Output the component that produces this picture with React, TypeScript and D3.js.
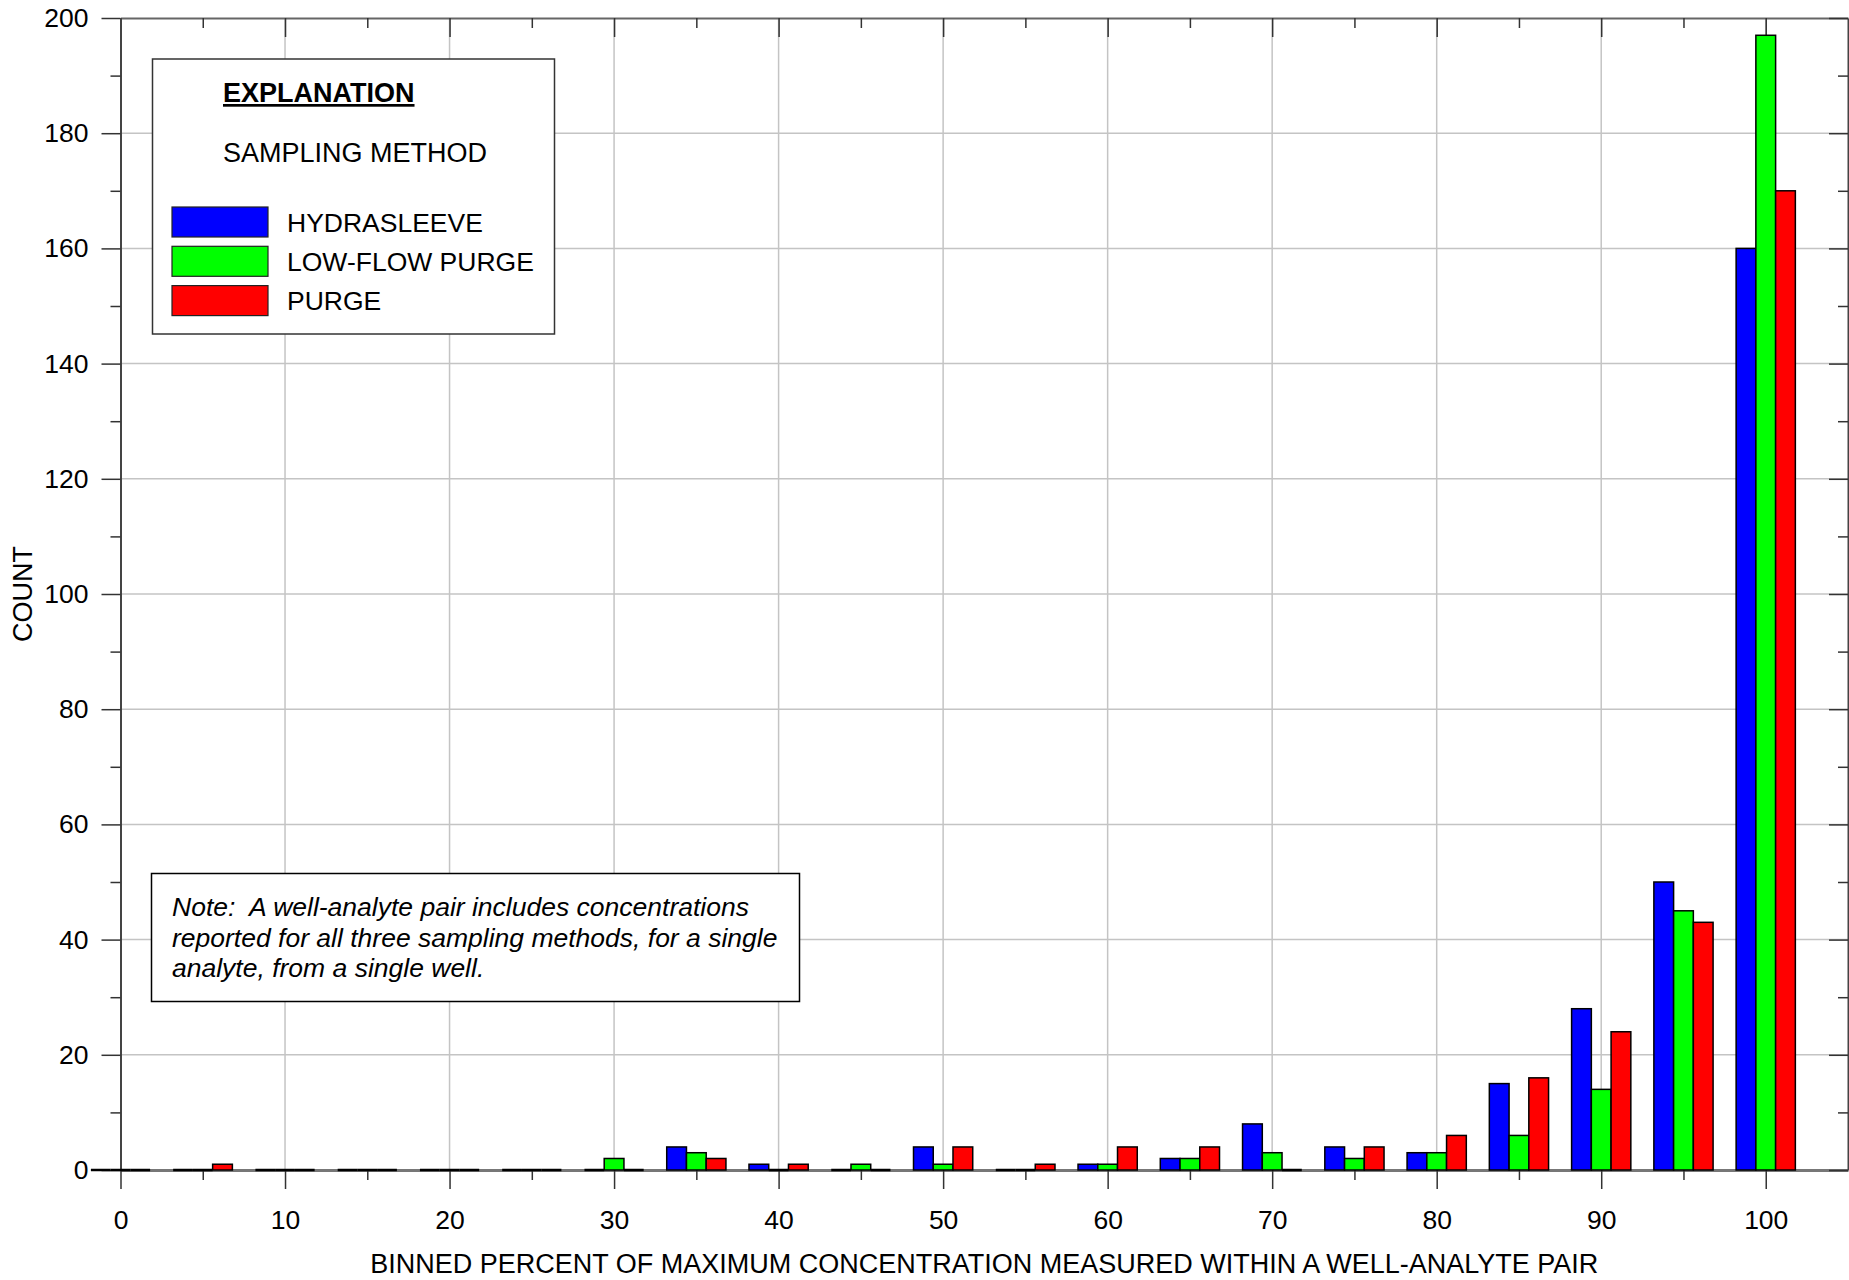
import React, { useEffect, useRef } from 'react';
import * as d3 from 'd3';

const bins = [0, 5, 10, 15, 20, 25, 30, 35, 40, 45, 50, 55, 60, 65, 70, 75, 80, 85, 90, 95, 100];
const hydrasleeve = [0, 0, 0, 0, 0, 0, 0, 4, 1, 0, 4, 0, 1, 2, 8, 4, 3, 15, 28, 50, 160];
const lowFlowPurge = [0, 0, 0, 0, 0, 0, 2, 3, 0, 1, 1, 0, 1, 2, 3, 2, 3, 6, 14, 45, 197];
const purge = [0, 1, 0, 0, 0, 0, 0, 2, 1, 0, 4, 1, 4, 4, 0, 4, 6, 16, 24, 43, 170];

const seriesNames = ['HYDRASLEEVE', 'LOW-FLOW PURGE', 'PURGE'];
const seriesColors = ['#0000ff', '#00ff00', '#ff0000'];
const xTicks = [0, 10, 20, 30, 40, 50, 60, 70, 80, 90, 100];
const yTicks = [0, 20, 40, 60, 80, 100, 120, 140, 160, 180, 200];
const noteLines = [
  'Note:  A well-analyte pair includes concentrations',
  'reported for all three sampling methods, for a single',
  'analyte, from a single well.',
];

const FONT = '"Liberation Sans", Arial, sans-serif';

function App() {
  const svgRef = useRef<SVGSVGElement>(null);

  useEffect(() => {
    const svg = d3.select(svgRef.current);
    svg.selectAll('*').remove();

    const left = 120.5;
    const right = 1848;
    const top = 18;
    const bottom = 1170;
    const barW = 1.2;

    const x = d3.scaleLinear().domain([0, 105]).range([left, right]);
    const y = d3.scaleLinear().domain([0, 200]).range([bottom, top]);

    // grid
    const grid = svg.append('g').attr('stroke', '#c4c4c4').attr('stroke-width', 1.5);
    xTicks.filter(d => d > 0).forEach(d => {
      grid.append('line').attr('x1', x(d)).attr('x2', x(d)).attr('y1', top).attr('y2', bottom);
    });
    yTicks.filter(d => d > 0 && d < 200).forEach(d => {
      grid.append('line').attr('x1', left).attr('x2', right).attr('y1', y(d)).attr('y2', y(d));
    });

    // axes
    const axisColor = '#333';
    const minorX = d3.range(5, 105, 10);
    const minorY = d3.range(10, 200, 20);

    const bottomAxis = svg.append('g').attr('transform', `translate(0,${bottom})`)
      .call(d3.axisBottom(x).tickValues(xTicks).tickSize(19).tickSizeOuter(0).tickFormat(d3.format('d')));
    bottomAxis.select('.domain').attr('stroke', '#777').attr('stroke-width', 3);
    bottomAxis.selectAll('.tick line').attr('stroke', axisColor).attr('stroke-width', 1.5);
    bottomAxis.selectAll('.tick text').attr('font-family', FONT).attr('font-size', 26.5).attr('fill', '#000').attr('dy', 37);
    svg.append('g').attr('transform', `translate(0,${bottom})`)
      .call(d3.axisBottom(x).tickValues(minorX).tickSize(10).tickFormat(() => ''))
      .call(g => g.select('.domain').remove())
      .selectAll('.tick line').attr('stroke', axisColor).attr('stroke-width', 1.5);

    const topAxis = svg.append('g').attr('transform', `translate(0,${top})`)
      .call(d3.axisBottom(x).tickValues(xTicks).tickSize(19).tickSizeOuter(0).tickFormat(() => ''));
    topAxis.select('.domain').attr('stroke', '#666').attr('stroke-width', 2);
    topAxis.selectAll('.tick line').attr('stroke', axisColor).attr('stroke-width', 1.5);
    svg.append('g').attr('transform', `translate(0,${top})`)
      .call(d3.axisBottom(x).tickValues(minorX).tickSize(10).tickFormat(() => ''))
      .call(g => g.select('.domain').remove())
      .selectAll('.tick line').attr('stroke', axisColor).attr('stroke-width', 1.5);

    const leftAxis = svg.append('g').attr('transform', `translate(${left},0)`)
      .call(d3.axisLeft(y).tickValues(yTicks).tickSize(19).tickSizeOuter(0).tickPadding(13));
    leftAxis.select('.domain').attr('stroke', '#444').attr('stroke-width', 2);
    leftAxis.selectAll('.tick line').attr('stroke', axisColor).attr('stroke-width', 1.5);
    leftAxis.selectAll('.tick text').attr('font-family', FONT).attr('font-size', 26.5).attr('fill', '#000');
    svg.append('g').attr('transform', `translate(${left},0)`)
      .call(d3.axisLeft(y).tickValues(minorY).tickSize(10).tickFormat(() => ''))
      .call(g => g.select('.domain').remove())
      .selectAll('.tick line').attr('stroke', axisColor).attr('stroke-width', 1.5);

    const rightAxis = svg.append('g').attr('transform', `translate(${right},0)`)
      .call(d3.axisLeft(y).tickValues(yTicks).tickSize(19).tickSizeOuter(0).tickFormat(() => ''));
    rightAxis.select('.domain').attr('stroke', '#444').attr('stroke-width', 2);
    rightAxis.selectAll('.tick line').attr('stroke', axisColor).attr('stroke-width', 1.5);
    svg.append('g').attr('transform', `translate(${right},0)`)
      .call(d3.axisLeft(y).tickValues(minorY).tickSize(10).tickFormat(() => ''))
      .call(g => g.select('.domain').remove())
      .selectAll('.tick line').attr('stroke', axisColor).attr('stroke-width', 1.5);

    // bars
    const series = [hydrasleeve, lowFlowPurge, purge];
    series.forEach((vals, si) => {
      const offset = (si - 1) * barW - barW / 2;
      const g = svg.append('g');
      bins.forEach((b, i) => {
        const v = vals[i];
        const x0 = x(b + offset);
        const w = x(b + offset + barW) - x0;
        if (v === 0) {
          g.append('line').attr('x1', x0).attr('x2', x0 + w)
            .attr('y1', y(0)).attr('y2', y(0))
            .attr('stroke', '#000').attr('stroke-width', 2.5);
        } else {
          g.append('rect').attr('x', x0).attr('y', y(v)).attr('width', w)
            .attr('height', y(0) - y(v))
            .attr('fill', seriesColors[si]).attr('stroke', '#000').attr('stroke-width', 1.5);
        }
      });
    });

    // axis titles
    svg.append('text').attr('x', (left + right) / 2).attr('y', 1273)
      .attr('text-anchor', 'middle').attr('font-family', FONT).attr('font-size', 27)
      .text('BINNED PERCENT OF MAXIMUM CONCENTRATION MEASURED WITHIN A WELL-ANALYTE PAIR');
    svg.append('text').attr('transform', `translate(32,${(top + bottom) / 2}) rotate(-90)`)
      .attr('text-anchor', 'middle').attr('font-family', FONT).attr('font-size', 27)
      .text('COUNT');

    // legend
    const leg = svg.append('g').attr('font-family', FONT);
    leg.append('rect').attr('x', 152.5).attr('y', 59).attr('width', 402).attr('height', 275)
      .attr('fill', '#fff').attr('stroke', '#333').attr('stroke-width', 1.5);
    leg.append('text').attr('x', 223).attr('y', 102).attr('font-size', 27).attr('font-weight', 'bold')
      .attr('text-decoration', 'underline').text('EXPLANATION');
    leg.append('text').attr('x', 223).attr('y', 162).attr('font-size', 27).text('SAMPLING METHOD');
    seriesNames.forEach((name, i) => {
      const yy = 207 + i * 39.3;
      leg.append('rect').attr('x', 172).attr('y', yy).attr('width', 96).attr('height', 30)
        .attr('fill', seriesColors[i]).attr('stroke', '#222').attr('stroke-width', 1.2);
      leg.append('text').attr('x', 287).attr('y', yy + 24.5).attr('font-size', 26.5).text(name);
    });

    // note
    const note = svg.append('g').attr('font-family', FONT);
    note.append('rect').attr('x', 151.5).attr('y', 873.5).attr('width', 648).attr('height', 128)
      .attr('fill', '#fff').attr('stroke', '#000').attr('stroke-width', 1.5);
    noteLines.forEach((line, i) => {
      note.append('text').attr('x', 172).attr('y', 916 + i * 30.5)
        .attr('font-size', 26.5).attr('font-style', 'italic')
        .style('white-space', 'pre').text(line);
    });
  }, []);

  return (
    <div style={{ position: 'absolute', left: 0, top: 0 }}>
      <svg ref={svgRef} width={1849} height={1280} style={{ display: 'block', background: '#fff' }}></svg>
    </div>
  );
}

export default App;
